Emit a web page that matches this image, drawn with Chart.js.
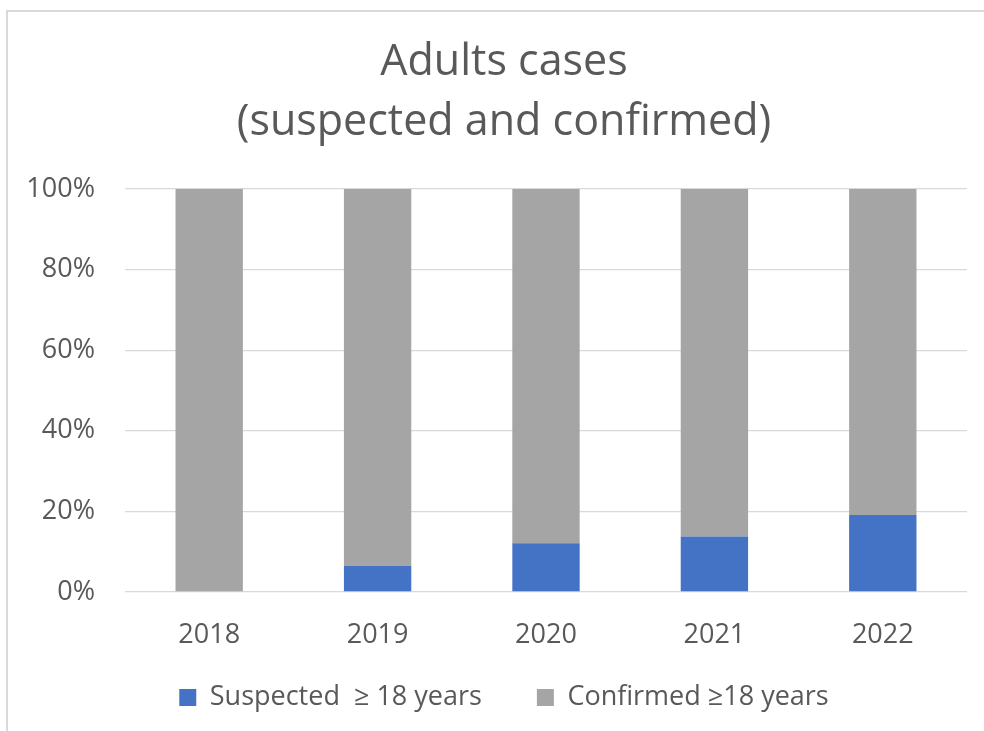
<!DOCTYPE html>
<html>
<head>
<meta charset="utf-8">
<script src="https://cdn.jsdelivr.net/npm/chart.js@4"></script>
<style>
  html, body { margin: 0; padding: 0; background: #fff; overflow: hidden; }
  canvas { display: block; }
</style>
</head>
<body>
<canvas id="c" width="984" height="731"></canvas>
<script>
const categories = ['2018', '2019', '2020', '2021', '2022'];
const suspectedPct = [0, 6.5, 12.1, 13.75, 19.1];
const confirmedPct = [100, 93.5, 87.9, 86.25, 80.9];
const seriesNames = ['Suspected  \u2265 18 years', 'Confirmed \u226518 years'];
const titleLines = ['Adults cases', '(suspected and confirmed)'];
const yTicks = [0, 20, 40, 60, 80, 100];

const textColor = '#595959';
const fontFamily = "'Open Sans', sans-serif";

// let tick labels extend past their (narrowed) axis boxes
const noLabelClip = (axis) => { axis._computeLabelArea = () => null; };

// chart-frame edge (left and top only are visible in the picture)
const framePlugin = {
  id: 'frame',
  beforeDraw(chart) {
    const ctx = chart.ctx;
    ctx.save();
    ctx.fillStyle = '#ffffff';
    ctx.fillRect(0, 0, chart.width, chart.height);
    ctx.strokeStyle = '#d9d9d9';
    ctx.lineWidth = 2;
    ctx.beginPath();
    ctx.moveTo(7, chart.height);
    ctx.lineTo(7, 11);
    ctx.lineTo(chart.width, 11);
    ctx.stroke();
    ctx.restore();
  }
};

new Chart(document.getElementById('c'), {
  type: 'bar',
  data: {
    labels: categories,
    datasets: [
      { label: seriesNames[0], data: suspectedPct, backgroundColor: '#4472C4', borderWidth: 0 },
      { label: seriesNames[1], data: confirmedPct, backgroundColor: '#A5A5A5', borderWidth: 0 }
    ]
  },
  plugins: [framePlugin],
  options: {
    responsive: false,
    animation: false,
    events: [],
    datasets: { bar: { barPercentage: 0.4, categoryPercentage: 1.0 } },
    layout: { padding: { left: 41, right: 17, top: 0, bottom: 10 } },
    plugins: {
      tooltip: { enabled: false },
      title: {
        display: true,
        text: titleLines,
        color: textColor,
        font: { family: fontFamily, size: 43, weight: 'normal', lineHeight: 1.395 },
        padding: { top: 33, bottom: 36 }
      },
      legend: {
        position: 'bottom',
        labels: {
          color: textColor,
          font: { family: fontFamily, size: 27 },
          boxWidth: 17,
          boxHeight: 17,
          padding: 55
        }
      }
    },
    scales: {
      x: {
        stacked: true,
        afterFit: (axis) => { axis.height = 37; noLabelClip(axis); },
        grid: { display: false, drawTicks: false },
        border: { display: false },
        ticks: { color: textColor, font: { family: fontFamily, size: 27 }, padding: 27, maxRotation: 0 }
      },
      y: {
        stacked: true,
        min: 0,
        max: 100,
        afterFit: (axis) => { axis.width = 84; noLabelClip(axis); },
        afterBuildTicks: (axis) => { axis.ticks = yTicks.map(v => ({ value: v })); },
        grid: { color: '#d9d9d9', lineWidth: 1.3, drawTicks: false },
        border: { display: false },
        ticks: {
          color: textColor,
          font: { family: fontFamily, size: 27 },
          padding: 30,
          callback: (v) => v + '%'
        }
      }
    }
  }
});
</script>
</body>
</html>
